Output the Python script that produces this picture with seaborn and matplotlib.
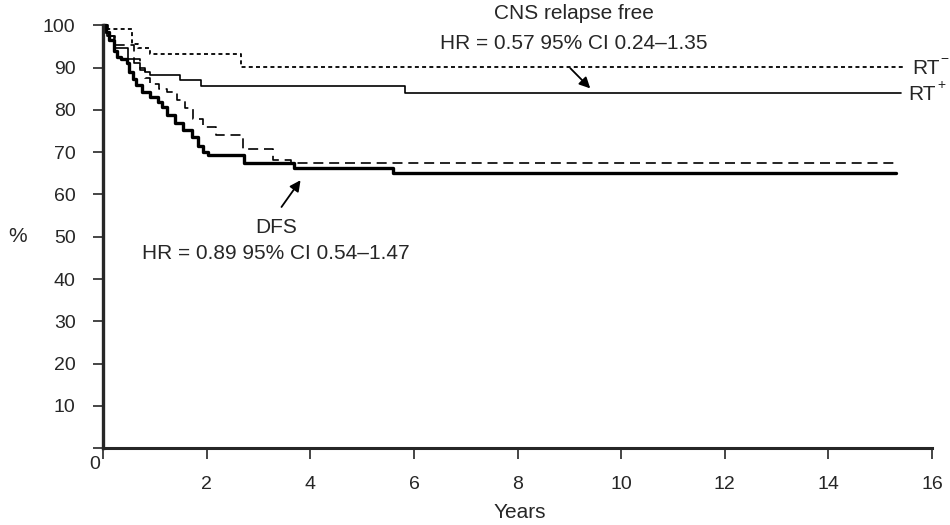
import numpy as np
import pandas as pd
import seaborn as sns
from matplotlib import pyplot as plt

# curves (years, % event free)
cns_neg_t = [0, 0.08, 0.55, 0.68, 0.9, 2.65, 15.5]
cns_neg_s = [100, 99.1, 95.5, 94.5, 93.3, 90.1, 90.1]

cns_pos_t = [0, 0.08, 0.2, 0.48, 0.6, 0.7, 0.8, 0.9, 1.48, 1.88, 5.83, 15.4]
cns_pos_s = [100, 97.5, 94.5, 92.1, 91.0, 89.8, 88.9, 88.3, 87.0, 85.7, 84.0, 84.0]

dfs_neg_t = [0, 0.1, 0.23, 0.6, 0.7, 0.8, 0.9, 1.07, 1.23, 1.42, 1.58, 1.73,
             1.93, 2.18, 2.7, 3.27, 3.62, 15.3]
dfs_neg_s = [100, 97.5, 95.4, 92.0, 89.5, 87.5, 86.2, 85.0, 84.1, 82.3, 80.4, 77.8,
             76.0, 74.0, 70.8, 68.2, 67.4, 67.4]

dfs_pos_t = [0, 0.05, 0.12, 0.2, 0.27, 0.35, 0.45, 0.5, 0.58, 0.64, 0.74, 0.9,
             1.05, 1.14, 1.24, 1.38, 1.53, 1.72, 1.83, 1.93, 2.03, 2.72, 3.68, 5.6, 15.3]
dfs_pos_s = [100, 98.5, 96.5, 94.0, 92.5, 92.0, 91.0, 89.0, 87.2, 85.8, 84.2, 83.1,
             81.9, 80.7, 78.7, 77.0, 75.2, 73.5, 71.5, 70.0, 69.3, 67.5, 66.3, 65.1, 65.1]

cns_text = ['CNS relapse free', 'HR = 0.57 95% CI 0.24\u20131.35']
dfs_text = ['DFS', 'HR = 0.89 95% CI 0.54\u20131.47']
yticks = [10, 20, 30, 40, 50, 60, 70, 80, 90, 100]
xticks = [0, 2, 4, 6, 8, 10, 12, 14, 16]

sns.set_style('ticks')
plt.rcParams['font.family'] = ['Liberation Sans', 'DejaVu Sans']

fig = plt.figure(figsize=(9.5, 5.25), dpi=100)
ax = fig.add_axes([0.1087, 0.1461, 0.981 - 0.1087, 0.952 - 0.1461])

curves = [
    (cns_neg_t, cns_neg_s, dict(lw=1.3, linestyle=(0, (2.2, 1.8)))),
    (cns_pos_t, cns_pos_s, dict(lw=1.2, linestyle='-')),
    (dfs_neg_t, dfs_neg_s, dict(lw=1.2, linestyle=(0, (6, 3.5)))),
    (dfs_pos_t, dfs_pos_s, dict(lw=2.4, linestyle='-')),
]
for t, s, kw in curves:
    df = pd.DataFrame({'t': t, 's': s})
    sns.lineplot(data=df, x='t', y='s', ax=ax, color='black', estimator=None,
                 drawstyle='steps-post', clip_on=False, **kw)

ax.set_xlim(0, 16)
ax.set_ylim(0, 100)
sns.despine(ax=ax)
ax.spines['left'].set_linewidth(2.4)
ax.spines['bottom'].set_linewidth(2.2)
ax.set_xticks(xticks)
ax.set_xticklabels([''] + [str(x) for x in xticks[1:]])
ax.set_yticks([0] + yticks)
ax.set_yticklabels([''] + [str(y) for y in yticks])
ax.tick_params(axis='y', length=7, width=1.2, pad=13, labelsize=14)
ax.tick_params(axis='x', length=8, width=1.2, pad=12, labelsize=14)
ax.set_xlabel('')
ax.set_ylabel('')
ax.annotate('0', xy=(0, 0), xytext=(-6, -12), textcoords='offset points',
            ha='center', va='center', fontsize=14)

fig.text(18 / 950, 1 - 236 / 525, '%', ha='center', va='center', fontsize=15)
fig.text(520 / 950, 1 - 513 / 525, 'Years', ha='center', va='center', fontsize=15)

ax.text(9.09, 102.8, cns_text[0], ha='center', va='center', fontsize=15, clip_on=False)
ax.text(9.09, 95.7, cns_text[1], ha='center', va='center', fontsize=15, clip_on=False)
ax.annotate('', xy=(9.44, 84.6), xytext=(8.98, 90.3),
            arrowprops=dict(arrowstyle='-|>', color='black', lw=1.3, mutation_scale=16))

ax.text(3.34, 52.3, dfs_text[0], ha='center', va='center', fontsize=15)
ax.text(3.34, 46.1, dfs_text[1], ha='center', va='center', fontsize=15)
ax.annotate('', xy=(3.84, 63.9), xytext=(3.41, 56.5),
            arrowprops=dict(arrowstyle='-|>', color='black', lw=1.3, mutation_scale=16))

# RT labels with small superscripts
ax.text(15.62, 89.8, 'RT', ha='left', va='center', fontsize=15, clip_on=False)
ax.text(16.17, 92.0, '\u2212', ha='left', va='center', fontsize=10, clip_on=False)
ax.text(15.55, 83.6, 'RT', ha='left', va='center', fontsize=15, clip_on=False)
ax.text(16.10, 85.8, '+', ha='left', va='center', fontsize=10, clip_on=False)

fig.savefig('out.png', dpi=100)
